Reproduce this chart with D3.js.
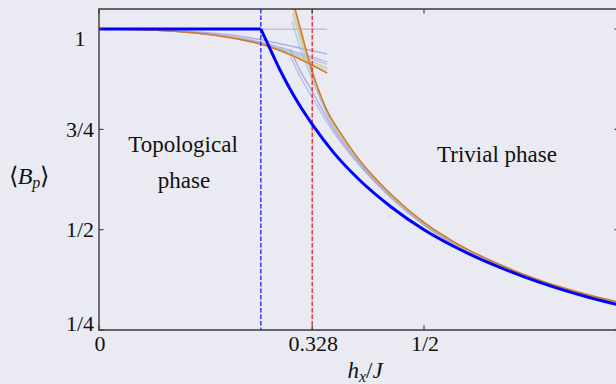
<!DOCTYPE html>
<html>
<head>
<meta charset="utf-8">
<script src="https://cdn.jsdelivr.net/npm/d3@7"></script>
<style>
  html, body { margin: 0; padding: 0; background: #eaeaf2; }
  svg { display: block; }
</style>
</head>
<body>
<div id="chart"></div>
<script>
// transition fields
const hTopo = 0.249;   // blue dashed
const hCrit = 0.328;   // red dashed

// mean-field curve (thick blue)
const blueH = [0, 0.249, 0.26, 0.28, 0.30, 0.33, 0.36, 0.40, 0.45, 0.50, 0.55, 0.60, 0.65, 0.70, 0.75, 0.80];
const blueV = [1, 1, 0.962, 0.893, 0.833, 0.758, 0.694, 0.625, 0.556, 0.5, 0.455, 0.417, 0.385, 0.357, 0.333, 0.3125];

// largest system (solid orange), low-field and high-field branches
const lowH = [0, 0.05, 0.1, 0.15, 0.2, 0.25, 0.3, 0.351];
const orangeLowV = [1, 0.999, 0.996, 0.99, 0.979, 0.962, 0.932, 0.89];
const orangeHighH = [0.30, 0.31, 0.328, 0.35, 0.37, 0.40, 0.45, 0.50, 0.55, 0.60, 0.65, 0.70, 0.75, 0.80];
const orangeHighV = [1.06, 1.0, 0.895, 0.80, 0.745, 0.675, 0.587, 0.518, 0.466, 0.425, 0.391, 0.362, 0.339, 0.319];

// smaller systems (faint lines)
const faintColors = ["#8f86d8", "#a4a0e4", "#8fb6e6", "#8fcfa0", "#e2c862", "#f09c52"];
const faintLowV = [
  [1, 0.9995, 0.997, 0.993, 0.986, 0.973, 0.956, 0.938],
  [1, 0.9993, 0.996, 0.991, 0.982, 0.967, 0.944, 0.918],
  [1, 0.9992, 0.996, 0.99, 0.981, 0.965, 0.94, 0.912],
  [1, 0.9991, 0.996, 0.99, 0.98, 0.964, 0.937, 0.903],
  [1, 0.999, 0.996, 0.99, 0.98, 0.963, 0.934, 0.897],
  [1, 0.999, 0.996, 0.99, 0.979, 0.962, 0.932, 0.892]
];
const faintHighH = [0.31, 0.328, 0.35, 0.37, 0.40, 0.45, 0.50, 0.60, 0.70, 0.80];
const faintHighStartH = [0.294, 0.295, 0.297, 0.298, 0.299, 0.300];
const faintHighV = [
  [0.95, 0.895, 0.845, 0.78, 0.728, 0.665, 0.58, 0.512, 0.42, 0.358, 0.315],
  [0.93, 0.88, 0.83, 0.77, 0.722, 0.662, 0.578, 0.511, 0.42, 0.358, 0.315],
  [1.02, 0.95, 0.875, 0.79, 0.735, 0.668, 0.581, 0.514, 0.422, 0.36, 0.317],
  [1.04, 0.97, 0.885, 0.795, 0.738, 0.671, 0.583, 0.515, 0.423, 0.361, 0.318],
  [1.05, 0.985, 0.89, 0.797, 0.74, 0.673, 0.584, 0.516, 0.424, 0.361, 0.318],
  [1.06, 0.99, 0.893, 0.799, 0.743, 0.674, 0.586, 0.517, 0.424, 0.362, 0.318]
];
// smallest system stays at 1 in the low-field branch
const flatH = [0, 0.351];
const flatV = [1, 1];

// ticks
const xTicks = [0, 0.328, 0.5];
const xTickLabels = ["0", "0.328", "1/2"];
const yTicks = [0.25, 0.5, 0.75, 1];
const yTickLabels = ["1/4", "1/2", "3/4", "1"];

const W = 616, H = 384;
const margin = { top: 9, left: 99, bottom: 54 };
const xMax = 0.8;
const serif = "Liberation Serif";

const svg = d3.select('#chart').append('svg')
  .attr('width', W).attr('height', H);

svg.append('rect').attr('width', W).attr('height', H).attr('fill', '#eaeaf2');

const x = d3.scaleLinear().domain([0, xMax]).range([margin.left, margin.left + 650 * xMax]);
const y = d3.scaleLinear().domain([0.25, 1.05]).range([H - margin.bottom, margin.top]);

svg.append('clipPath').attr('id', 'clip')
  .append('rect')
  .attr('x', x(0)).attr('y', y(1.05))
  .attr('width', x(xMax) - x(0)).attr('height', y(0.25) - y(1.05));

const plot = svg.append('g').attr('clip-path', 'url(#clip)');

const line = d3.line()
  .x(d => x(d[0])).y(d => y(d[1]))
  .curve(d3.curveMonotoneX);

const zip = (hs, vs) => hs.map((h, i) => [h, vs[i]]);

// flat faint line
plot.append('path')
  .attr('d', line(zip(flatH, flatV)))
  .attr('fill', 'none').attr('stroke', '#c6a2d8')
  .attr('stroke-width', 1.3).attr('opacity', 0.85);

// faint lines
faintColors.forEach((c, i) => {
  plot.append('path')
    .attr('d', line(zip(lowH, faintLowV[i])))
    .attr('fill', 'none').attr('stroke', c)
    .attr('stroke-width', 1.4).attr('opacity', 0.65);
  plot.append('path')
    .attr('d', line(zip([faintHighStartH[i]].concat(faintHighH), faintHighV[i])))
    .attr('fill', 'none').attr('stroke', c)
    .attr('stroke-width', 1.4).attr('opacity', 0.65);
});

// solid orange
plot.append('path')
  .attr('d', line(zip(lowH, orangeLowV)))
  .attr('fill', 'none').attr('stroke', '#cc7a3c').attr('stroke-width', 1.5);
plot.append('path')
  .attr('d', line(zip(orangeHighH, orangeHighV)))
  .attr('fill', 'none').attr('stroke', '#cc7a3c').attr('stroke-width', 1.5);

// dashed transition lines
[[hTopo, '#1a1aff'], [hCrit, '#ff1a1a']].forEach(([h, c]) => {
  plot.append('line')
    .attr('x1', x(h)).attr('x2', x(h))
    .attr('y1', y(1.05)).attr('y2', y(0.25))
    .attr('stroke', c).attr('stroke-width', 1.3)
    .attr('stroke-dasharray', '4.5,2');
});

// thick blue: flat part and decaying part
const blue = zip(blueH, blueV);
const kink = blueH.indexOf(hTopo);
plot.append('path')
  .attr('d', d3.line().x(d => x(d[0])).y(d => y(d[1]))(blue.slice(0, kink + 1)))
  .attr('fill', 'none').attr('stroke', '#0000ff').attr('stroke-width', 3);
plot.append('path')
  .attr('d', line(blue.slice(kink)))
  .attr('fill', 'none').attr('stroke', '#0000ff').attr('stroke-width', 3);

// spines
const spine = '#3a3a3a';
const x0 = x(0), x1 = x(xMax), y0 = y(0.25), y1 = y(1.05);
svg.append('path')
  .attr('d', `M${x1},${y1}H${x0}V${y0}H${x1}V${y1}`)
  .attr('fill', 'none').attr('stroke', spine).attr('stroke-width', 1.4);

// ticks (inward on all four sides)
const tl = 4.5;
xTicks.forEach(t => {
  svg.append('line').attr('x1', x(t)).attr('x2', x(t)).attr('y1', y0).attr('y2', y0 - tl)
    .attr('stroke', spine).attr('stroke-width', 1.1);
  svg.append('line').attr('x1', x(t)).attr('x2', x(t)).attr('y1', y1).attr('y2', y1 + tl)
    .attr('stroke', spine).attr('stroke-width', 1.1);
});
yTicks.forEach(t => {
  svg.append('line').attr('x1', x0).attr('x2', x0 + tl).attr('y1', y(t)).attr('y2', y(t))
    .attr('stroke', spine).attr('stroke-width', 1.1);
  svg.append('line').attr('x1', x1).attr('x2', x1 - tl).attr('y1', y(t)).attr('y2', y(t))
    .attr('stroke', spine).attr('stroke-width', 1.1);
});

// text helper
const txt = (xx, yy, size) => svg.append('text')
  .attr('x', xx).attr('y', yy)
  .attr('text-anchor', 'middle')
  .attr('font-family', serif)
  .attr('font-size', size)
  .attr('fill', '#111');

// tick labels
const fs = 22;
xTicks.forEach((t, i) => {
  txt(x(t) + 1, y0 + 21, fs).text(xTickLabels[i]);
});
const yShift = { "1": 17, "3/4": 8, "1/2": 7, "1/4": 1 };
yTicks.forEach((t, i) => {
  txt(80, y(t) + yShift[yTickLabels[i]], fs).text(yTickLabels[i]);
});

// axis labels
const xl = txt(365, 378, 23);
xl.append('tspan').attr('font-style', 'italic').text('h');
xl.append('tspan').attr('font-style', 'italic').attr('font-size', 16).attr('dy', 4).text('x');
xl.append('tspan').attr('dy', -4).text('/');
xl.append('tspan').attr('font-style', 'italic').text('J');

const yl = txt(29, 184, 24);
yl.append('tspan').text('⟨');
yl.append('tspan').attr('font-style', 'italic').text('B');
yl.append('tspan').attr('font-style', 'italic').attr('font-size', 16).attr('dy', 4).text('p');
yl.append('tspan').attr('dy', -4).text('⟩');

// phase annotations
const af = 23;
txt(183, 152, af).text('Topological');
txt(184, 188, af).text('phase');
txt(497, 162, af).text('Trivial phase');
</script>
</body>
</html>
